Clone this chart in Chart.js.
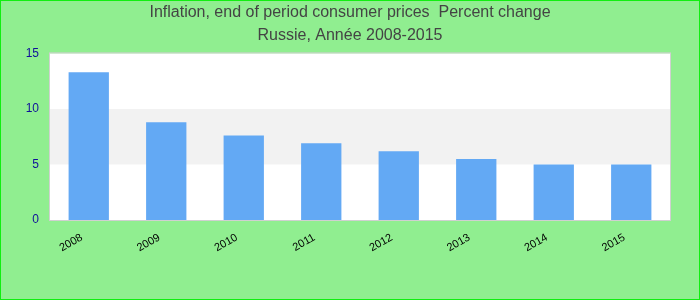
<!DOCTYPE html>
<html>
<head>
<meta charset="utf-8">
<script src="https://cdn.jsdelivr.net/npm/chart.js@4/dist/chart.umd.min.js"></script>
<style>
  html, body { margin: 0; padding: 0; background: #90ee90; }
  #wrap { width: 700px; height: 300px; position: relative; }
</style>
</head>
<body>
<div id="wrap"><canvas id="chart"></canvas></div>
<script>
// Chart data
const years = ["2008", "2009", "2010", "2011", "2012", "2013", "2014", "2015"];
const inflation = [13.3, 8.8, 7.6, 6.9, 6.2, 5.5, 5.0, 5.0];
const titleLines = ["Inflation, end of period consumer prices  Percent change", "Russie, Ann\u00e9e 2008-2015"];
const yTicks = [0, 5, 10, 15];

// Colors
const colors = {
  page: "#90ee90",
  frame: "#11ee11",
  bar: "#63a9f4",
  band: "#f2f2f2",
  plotBorder: "#d0d0d0",
  title: "#444",
  yTick: "#10109a",
  xTick: "#000",
};

const font = "Liberation Sans, Arial, sans-serif";

// Background, alternating bands and borders
const backdrop = {
  id: "backdrop",
  beforeDraw(chart) {
    const { ctx, chartArea: a, scales } = chart;
    ctx.save();
    ctx.fillStyle = colors.page;
    ctx.fillRect(0, 0, chart.width, chart.height);
    ctx.fillStyle = "#fff";
    ctx.fillRect(a.left, a.top, a.right - a.left, a.bottom - a.top);
    // gray band between every other pair of ticks
    ctx.fillStyle = colors.band;
    for (let i = 1; i < yTicks.length - 1; i += 2) {
      const y1 = scales.y.getPixelForValue(yTicks[i + 1]);
      const y0 = scales.y.getPixelForValue(yTicks[i]);
      ctx.fillRect(a.left, y1, a.right - a.left, y0 - y1);
    }
    ctx.restore();
  },
  afterDraw(chart) {
    const { ctx, chartArea: a } = chart;
    ctx.save();
    ctx.strokeStyle = colors.plotBorder;
    ctx.lineWidth = 1;
    ctx.strokeRect(a.left - 0.5, a.top - 0.5, a.right - a.left + 1, a.bottom - a.top + 1);
    ctx.strokeStyle = colors.frame;
    ctx.lineWidth = 2;
    ctx.strokeRect(0, 0, chart.width, chart.height);
    ctx.restore();
  },
};

new Chart(document.getElementById("chart"), {
  type: "bar",
  data: {
    labels: years,
    datasets: [{
      label: "Inflation",
      data: inflation,
      backgroundColor: colors.bar,
      borderWidth: 0,
      barPercentage: 0.52,
      categoryPercentage: 1,
    }],
  },
  options: {
    responsive: true,
    maintainAspectRatio: false,
    animation: false,
    layout: { padding: 0 },
    plugins: {
      legend: { display: false },
      tooltip: { enabled: false },
      title: {
        display: true,
        text: titleLines,
        color: colors.title,
        font: { family: font, size: 16, weight: "normal", lineHeight: 1.45 },
        padding: { top: 1, bottom: 6 },
      },
    },
    scales: {
      x: {
        grid: { display: false, drawTicks: false },
        border: { display: false },
        ticks: {
          color: colors.xTick,
          minRotation: 30,
          maxRotation: 30,
          padding: 11,
          labelOffset: -7,
          font: { family: font, size: 11 },
        },
        afterFit(scale) { scale.height = 80; },
      },
      y: {
        min: 0,
        max: 15,
        grid: { display: false, drawTicks: false },
        border: { display: false },
        ticks: {
          stepSize: 5,
          color: colors.yTick,
          padding: 11,
          font: { family: font, size: 12 },
        },
        afterFit(scale) { scale.width = 50; },
      },
      // empty right margin so the title stays centred on the page
      yRight: {
        position: "right",
        grid: { display: false, drawTicks: false },
        border: { display: false },
        ticks: { display: false },
        afterFit(scale) { scale.width = 30; },
      },
    },
  },
  plugins: [backdrop],
});
</script>
</body>
</html>
